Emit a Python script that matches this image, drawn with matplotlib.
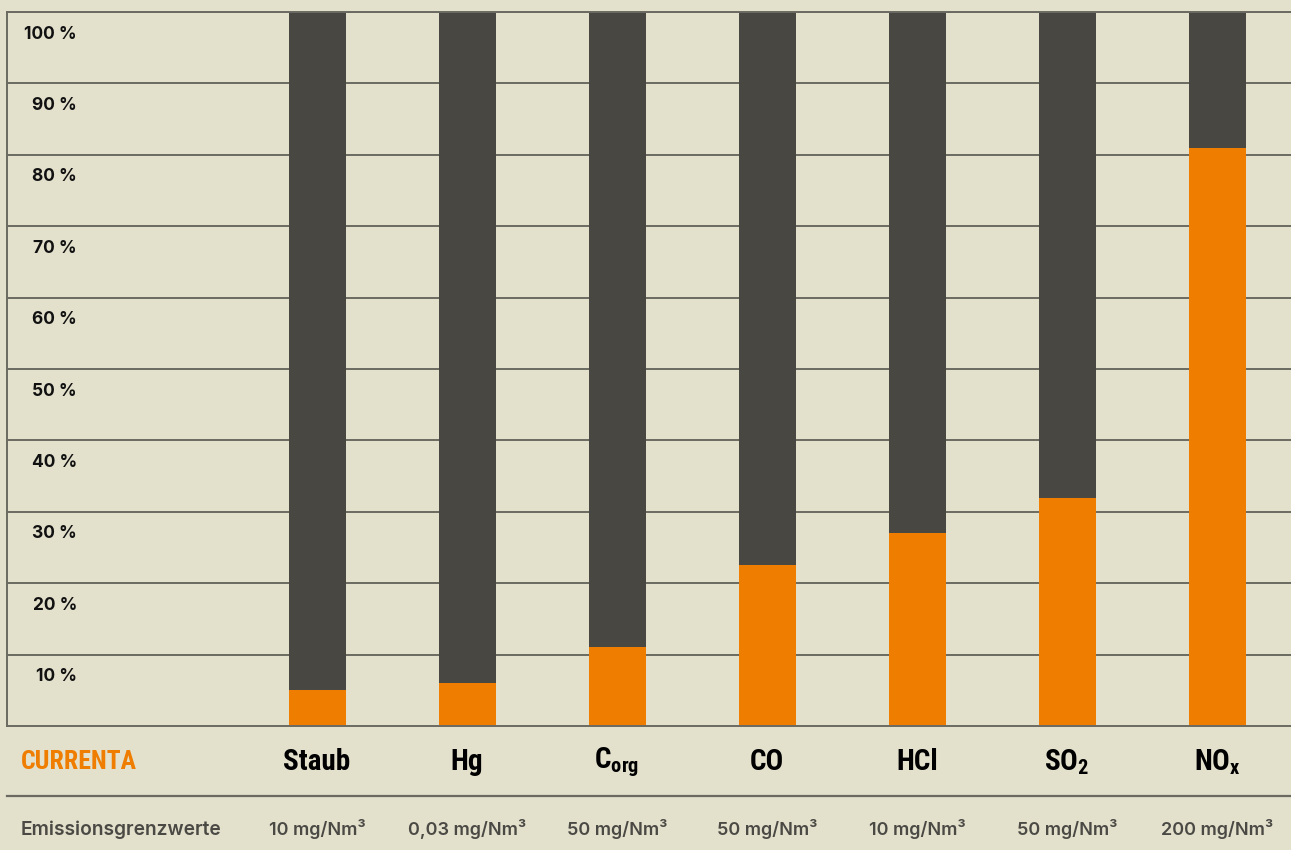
import matplotlib.pyplot as plt
import numpy as np

# data
categories = ['Staub', 'Hg', r'C$_\mathregular{org}$', 'CO', 'HCl', r'SO$_\mathregular{2}$', r'NO$_\mathregular{x}$']
share = [5, 6, 11, 22.5, 27, 32, 81]
limits = ['10 mg/Nm³', '0,03 mg/Nm³', '50 mg/Nm³', '50 mg/Nm³', '10 mg/Nm³', '50 mg/Nm³', '200 mg/Nm³']
yticks = [10, 20, 30, 40, 50, 60, 70, 80, 90, 100]

bg = '#e3e0cc'
dark = '#484741'
orange = '#ef7d00'
line = '#6b6a62'

plt.rcParams['font.family'] = ['Inter', 'DejaVu Sans']
plt.rcParams['mathtext.default'] = 'regular'

W, H = 1291, 850
fig = plt.figure(figsize=(W / 100, H / 100), dpi=100, facecolor=bg)
ax = fig.add_axes([7 / W, 1 - 726 / H, 1 - 7 / W, 714 / H])
ax.set_facecolor(bg)

x = np.arange(len(categories))
ax.set_xlim((7 - 317) / 150, (W - 317) / 150)
ax.set_ylim(0, 100)

for v in yticks:
    ax.axhline(v, color=line, lw=1.4, zorder=1)
    ax.text(-1.6, v - 3.1, f'{v} %', ha='right', va='center', fontsize=12.5,
            fontweight='bold', color='#111111')

rest = [100 - s for s in share]
ax.bar(x, share, width=0.38, color=orange, zorder=2)
ax.bar(x, rest, bottom=share, width=0.38, color=dark, zorder=2)

ax.set_xticks([])
ax.set_yticks([])
ax.spines['right'].set_visible(False)
for s in ['left', 'top', 'bottom']:
    ax.spines[s].set_color(line)
    ax.spines[s].set_linewidth(1.4)

# label rows below the axes
def fy(py):
    return 1 - py / H

def fx(xd):
    return ax.transData.transform((xd, 0))[0] / W

cond = dict(family=['Roboto Condensed', 'DejaVu Sans'], fontstretch='condensed',
            fontweight='bold')
fig.text(21 / W, fy(762), 'CURRENTA', color=orange, va='center', ha='left',
         fontsize=18.5, **cond)
for i, c in enumerate(categories):
    fig.text(fx(i), fy(762), c, color='black', va='center', ha='center',
             fontsize=21, **cond)

fig.add_artist(plt.Line2D([7 / W, 1], [fy(796), fy(796)], color=line, lw=1.6))

fig.text(21 / W, fy(830), 'Emissionsgrenzwerte', color='#4a4944', fontsize=13.8,
         fontweight='semibold', va='center', ha='left')
for i, l in enumerate(limits):
    fig.text(fx(i), fy(829), l, color='#4a4944', fontsize=13, fontweight='semibold',
             va='center', ha='center')

fig.savefig('out.png', dpi=100, facecolor=bg)
